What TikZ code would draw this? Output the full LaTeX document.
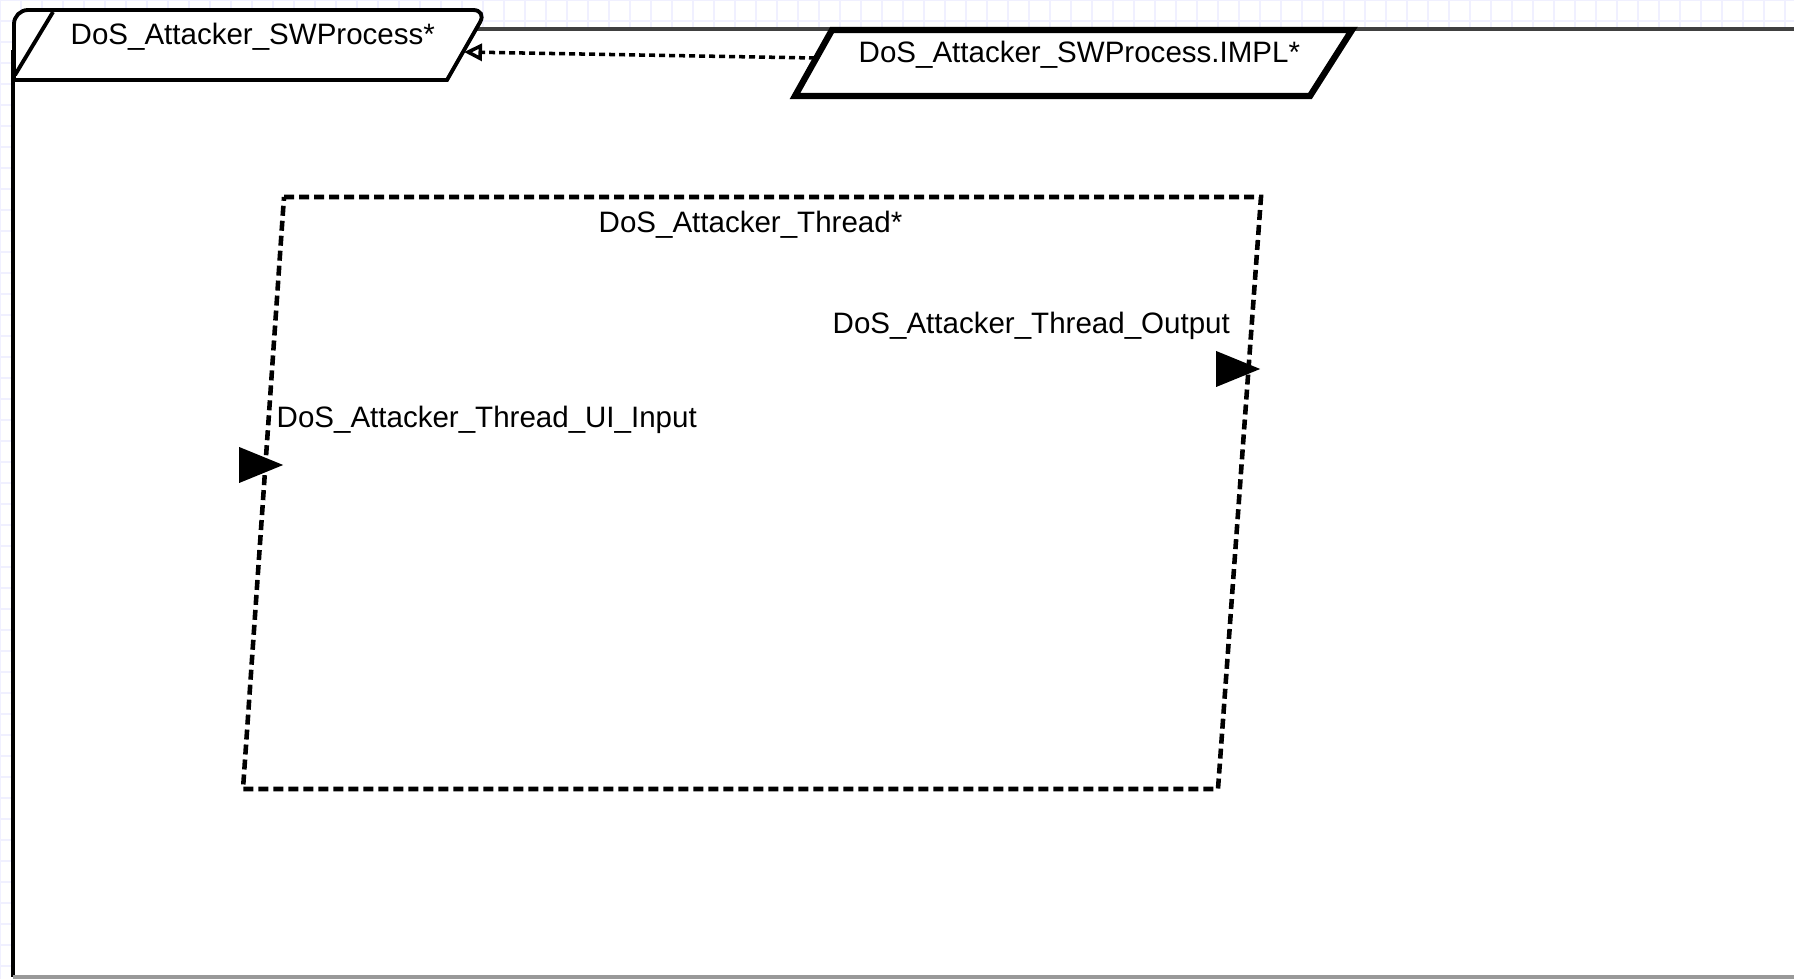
\documentclass[tikz,border=0pt]{standalone}
\usepackage{fontspec}
\setmainfont{Liberation Sans}
\usetikzlibrary{arrows.meta,shapes.geometric}

\begin{document}
\begin{tikzpicture}[>=Stealth,
  lbl/.style={inner sep=0pt, font=\fontsize{8.4}{10}\selectfont, text=black},
  port/.style={isosceles triangle, isosceles triangle stretches, fill=black, inner sep=0pt, minimum height=0.44cm, minimum width=0.36cm},
  threadline/.style={line width=1.3pt, dash pattern=on 0.1cm off 0.05cm},
  realizes/.style={line width=1pt, dash pattern=on 0.06cm off 0.04cm, -{Triangle[open, length=0.18cm, width=0.17cm]}}]
\useasboundingbox (0,0) rectangle (17.94,-9.79);
\draw[blue!6, step=0.21] (0,0) grid (17.94,-9.79);

\fill[white] (0.13,-0.29) rectangle (18,-9.77);
\draw[black!75, line width=1pt] (18,-0.29) -- (4.7,-0.29);
\draw[line width=1.1pt] (0.13,-0.5) -- (0.13,-9.77);
\draw[black!40, line width=1.2pt] (0.13,-9.77) -- (18,-9.77);

\draw[line width=1.1pt, fill=white] (4.47,-0.80) -- (0.14,-0.80) {[rounded corners=4pt] -- (0.14,-0.10) -- (4.87,-0.10)} -- cycle;
\draw[line width=1.1pt] (0.53,-0.12) -- (0.15,-0.75);
\node[lbl, anchor=base west] (swp) at (0.70,-0.45) {DoS\_Attacker\_SWProcess*};

\draw[line width=1.8pt, fill=white] (8.32,-0.30) -- (13.52,-0.30) -- (13.10,-0.96) -- (7.95,-0.96) -- cycle;
\node[lbl, anchor=base west] (impl) at (8.58,-0.63) {DoS\_Attacker\_SWProcess.IMPL*};

\coordinate (swpE) at (4.64,-0.52);
\coordinate (implW) at (8.15,-0.58);
\draw[realizes] (implW) -- (swpE);

\draw[threadline] (2.84,-1.97) -- (12.61,-1.97) -- (12.18,-7.89) -- (2.43,-7.89) -- cycle;
\node[lbl, anchor=base west] (thr) at (5.98,-2.33) {DoS\_Attacker\_Thread*};

\node[port, anchor=apex] (outport) at (12.62,-3.69) {};
\node[port, anchor=apex] (inport) at (2.85,-4.65) {};
\node[lbl, anchor=base west] (outlbl) at (8.32,-3.34) {DoS\_Attacker\_Thread\_Output};
\node[lbl, anchor=base west] (inlbl) at (2.76,-4.28) {DoS\_Attacker\_Thread\_UI\_Input};
\end{tikzpicture}
\end{document}
